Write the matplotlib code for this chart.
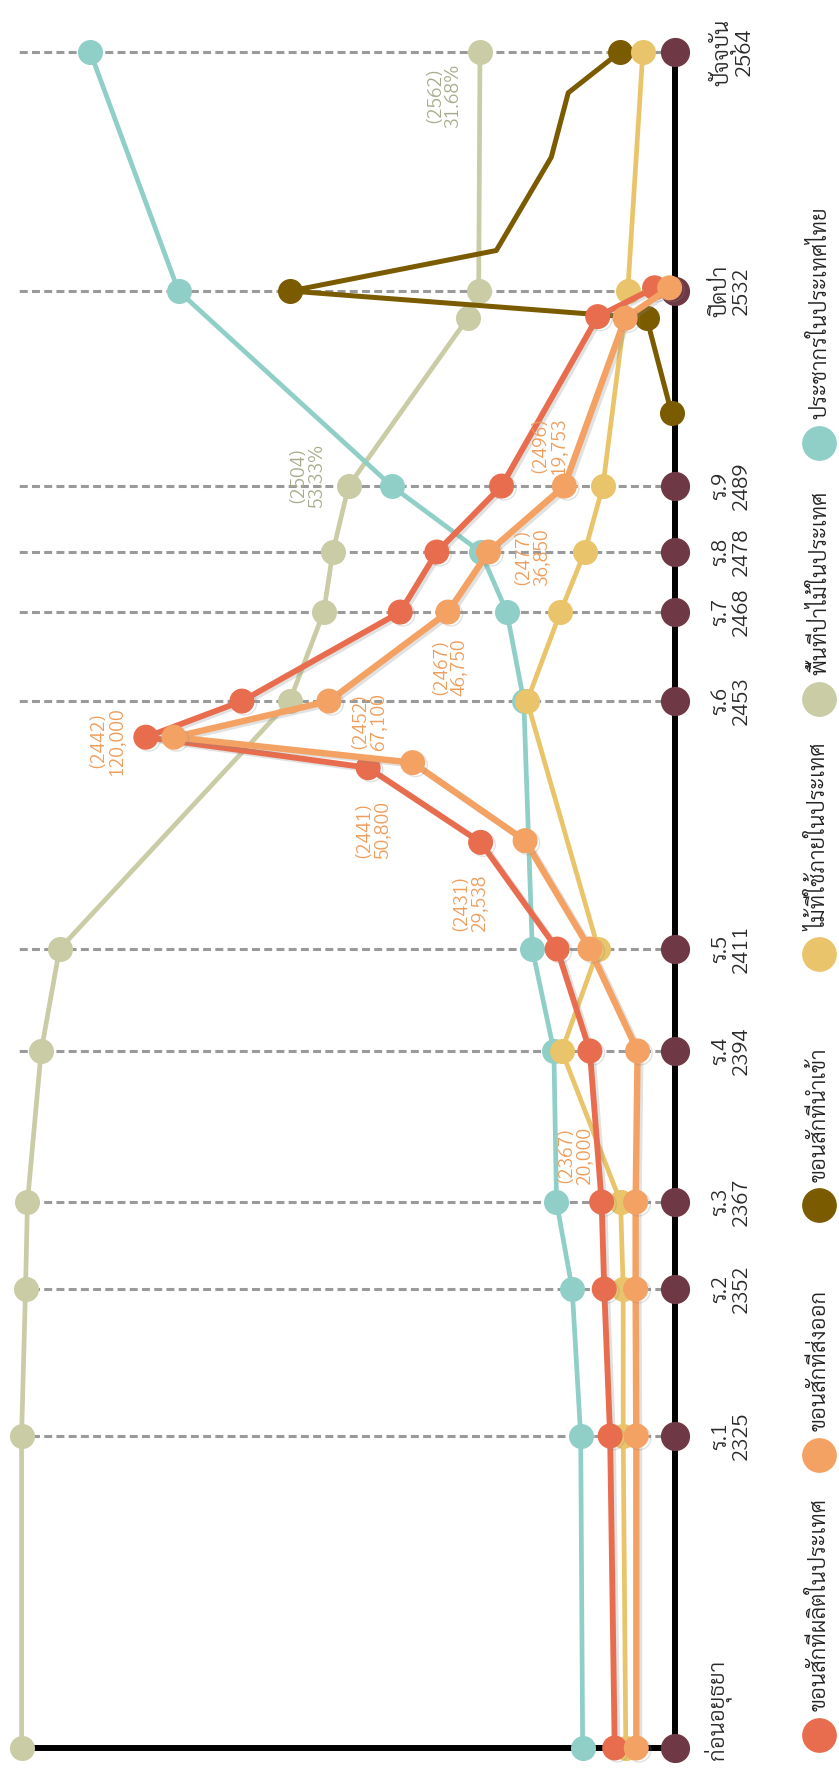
import numpy as np
import matplotlib
matplotlib.use("Agg")
import matplotlib.pyplot as plt
import matplotlib.patheffects as pe

plt.rcParams['font.family'] = ['Sarabun', 'Loma', 'DejaVu Sans']

# timeline (0 = ก่อนอยุธยา, 100 = ปัจจุบัน)
era_names = ["ก่อนอยุธยา", "ร.1", "ร.2", "ร.3", "ร.4", "ร.5", "ร.6", "ร.7", "ร.8", "ร.9", "ปิดป่า", "ปัจจุบัน"]
era_years = ["", "2325", "2352", "2367", "2394", "2411", "2453", "2468", "2478", "2489", "2532", "2564"]
era_pos = [0, 18.4, 27.06, 32.19, 41.1, 47.11, 61.73, 66.98, 70.52, 74.41, 85.91, 100]

# relative level of every series (0 = base line, 100 = top of chart)
forest_t = era_pos[:10] + [84.3, 85.91, 100]
forest_v = [99.9, 99.9, 99.3, 99.0, 96.9, 94.1, 58.9, 53.7, 52.3, 49.9, 31.7, 30.0, 29.8]

people_v = [14.1, 14.4, 15.7, 18.1, 18.5, 21.8, 23.1, 25.7, 29.7, 43.3, 75.9, 89.4]

used_v = [7.5, 7.9, 7.9, 8.3, 17.3, 11.7, 22.6, 17.5, 13.8, 11.0, 7.2, 4.9]

made_t = [0, 18.4, 27.06, 32.19, 41.1, 47.11, 53.4, 57.8, 59.6, 61.73, 66.98, 70.52, 74.41, 84.4, 86.1]
made_v = [9.2, 9.9, 10.8, 11.2, 13.0, 18.0, 29.7, 46.9, 80.9, 66.2, 42.0, 36.4, 26.5, 11.8, 3.1]

export_t = [0, 18.4, 27.06, 32.19, 41.1, 47.11, 53.5, 58.1, 59.6, 61.73, 66.98, 70.52, 74.41, 84.3, 86.1]
export_v = [5.9, 5.9, 6.0, 6.0, 5.7, 13.0, 22.9, 40.1, 76.6, 52.9, 34.7, 28.5, 16.9, 7.6, 0.8]

import_t = [78.7, 84.3, 85.91, 88.3, 93.8, 97.6, 100]
import_v = [0.5, 4.3, 58.8, 27.3, 18.9, 16.3, 8.4]
import_dots = [0, 1, 2, 6]

legend_labels = ["ขอนสักที่ผลิตในประเทศ", "ขอนสักที่ส่งออก", "ขอนสักที่นำเข้า",
                 "ไม้ที่ใช้ภายในประเทศ", "พื้นที่ป่าไม้ในประเทศ", "ประชากรในประเทศไทย"]

notes = [("(2367)\n20,000", 15.1, 34.9), ("(2431)\n29,538", 31.2, 49.8),
         ("(2441)\n50,800", 46.0, 54.1), ("(2442)\n120,000", 86.7, 59.4),
         ("(2452)\n67,100", 46.6, 60.5), ("(2467)\n46,750", 34.3, 63.7),
         ("(2477)\n36,850", 21.7, 70.2), ("(2496)\n19,753", 19.1, 76.8)]
forest_notes = [("(2504)\n53.33%", 56.1, 75.0), ("(2562)\n31.68%", 35.2, 97.4)]

c_made = '#E86D4E'
c_export = '#F3A263'
c_import = '#7B5B00'
c_used = '#E9C46A'
c_forest = '#C9CCA4'
c_people = '#8FCFC7'
c_era = '#6E3844'

fig = plt.figure(figsize=(8.39, 17.68), dpi=100)
ax = fig.add_axes([0, 0, 1, 1])
ax.axis('off')
ax.set_xlim(103.2, -25.1)
ax.set_ylim(-1.18, 103.07)

# dashed guides and the two black axes
ax.hlines(era_pos[1:], 0, 100.9, colors='#9a9a9a', linestyles=(0, (2.6, 1.4)), lw=2.2, zorder=1)
ax.plot([0, 0], [0, 100], color='black', lw=4.3, zorder=2, solid_capstyle='butt')
ax.plot([0, forest_v[0]], [0, 0], color='black', lw=4.3, zorder=2, solid_capstyle='butt')
ax.plot(np.zeros(len(era_pos)), era_pos, 'o', color=c_era, ms=20, zorder=3)

kw = dict(marker='o', ms=17, solid_joinstyle='round')
ax.plot(forest_v, forest_t, color=c_forest, lw=3.4, zorder=4, **kw)
ax.plot(people_v, era_pos, color=c_people, lw=3.4, zorder=5, **kw)
ax.plot(import_v, import_t, color=c_import, lw=3.6, zorder=6, solid_joinstyle='round')
ax.plot(np.array(import_v)[import_dots], np.array(import_t)[import_dots], 'o', color=c_import, ms=17, zorder=6)
ax.plot(used_v, era_pos, color=c_used, lw=3.4, zorder=7, **kw)
shadow = [pe.SimpleLineShadow(offset=(2, -1.5), shadow_color='#888888', alpha=0.25), pe.Normal()]
ax.plot(made_v, made_t, color=c_made, lw=4.2, zorder=8, path_effects=shadow, **kw)
ax.plot(export_v, export_t, color=c_export, lw=4.6, zorder=9, path_effects=shadow, **kw)

# era labels
for name, year, t in zip(era_names, era_years, era_pos):
    if year:
        ax.text(-8.6, t, name + "\n" + year, rotation=90, ha='center', va='center',
                fontsize=16, fontweight=300, color='#2a2a2a', linespacing=0.95)
    else:
        ax.text(-6.5, 5.2, name, rotation=90, ha='center', va='top', fontsize=16,
                fontweight=300, color='#2a2a2a')

for txt, v, t in notes:
    ax.text(v, t, txt, rotation=90, ha='center', va='center', fontsize=14, fontweight=300,
            color='#EE9D5C', linespacing=0.95, zorder=10)
for txt, v, t in forest_notes:
    ax.text(v, t, txt, rotation=90, ha='center', va='center', fontsize=14, fontweight=300,
            color='#A9AC8C', linespacing=0.95, zorder=10)

# legend down the right edge
legend_colors = [c_made, c_export, c_import, c_used, c_forest, c_people]
legend_pos = [0.77, 17.28, 32.0, 46.8, 61.85, 76.95]
for lab, col, t in zip(legend_labels, legend_colors, legend_pos):
    ax.plot([-22.0], [t], 'o', color=col, ms=24, clip_on=False)
    ax.text(-22.2, t + 1.4, lab, rotation=90, ha='center', va='bottom', fontsize=16,
            fontweight=300, color='#222222')

fig.savefig("out.png", dpi=100)
